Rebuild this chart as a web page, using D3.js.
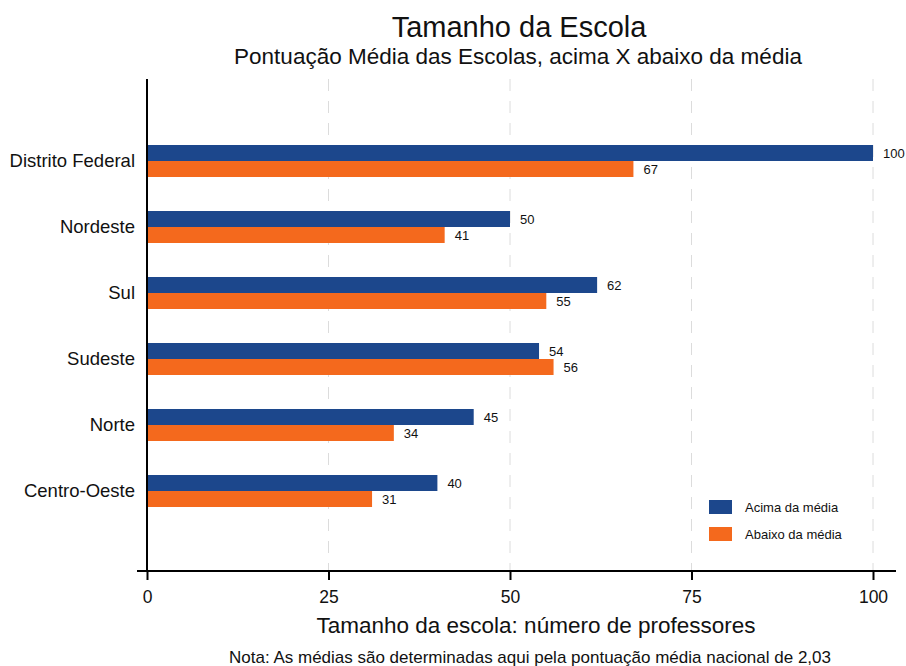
<!DOCTYPE html>
<html>
<head>
<meta charset="utf-8">
<script src="https://cdn.jsdelivr.net/npm/d3@7"></script>
<style>
  body { margin: 0; background: #fff; }
  svg { font-family: "Liberation Sans", Arial, sans-serif; display: block; }
</style>
</head>
<body>
<svg id="chart" width="906" height="666"></svg>
<script>
// dados
var regioes = ["Distrito Federal", "Nordeste", "Sul", "Sudeste", "Norte", "Centro-Oeste"];
var acimaMedia = [100, 50, 62, 54, 45, 40];
var abaixoMedia = [67, 41, 55, 56, 34, 31];
var xTicks = [0, 25, 50, 75, 100];
var series = [
  { nome: "Acima da média", valores: acimaMedia, cor: "#1c478c" },
  { nome: "Abaixo da média", valores: abaixoMedia, cor: "#f4691d" }
];

var svg = d3.select("#chart");
var x = d3.scaleLinear().domain([0, 100]).range([147, 873]);
var y = d3.scalePoint().domain(regioes).range([161, 491]);
var barH = 16;
var yTopo = 79, yBase = 571;

// linhas de grade
svg.append("g").selectAll("line")
  .data(xTicks.slice(1))
  .enter().append("line")
  .attr("x1", function(d) { return x(d); })
  .attr("x2", function(d) { return x(d); })
  .attr("y1", yTopo)
  .attr("y2", yBase)
  .attr("stroke", "#dcdcdc")
  .attr("stroke-width", 1)
  .attr("stroke-dasharray", "12,10");

// barras
series.forEach(function(s, si) {
  var g = svg.append("g");
  g.selectAll("rect")
    .data(regioes)
    .enter().append("rect")
    .attr("x", x(0))
    .attr("y", function(d) { return y(d) - barH + si * barH; })
    .attr("width", function(d, i) { return x(s.valores[i]) - x(0); })
    .attr("height", barH)
    .attr("fill", s.cor);
  g.selectAll("text")
    .data(regioes)
    .enter().append("text")
    .attr("x", function(d, i) { return x(s.valores[i]) + 10; })
    .attr("y", function(d) { return y(d) - barH / 2 + si * barH + 5; })
    .attr("font-size", 13)
    .attr("fill", "#111")
    .text(function(d, i) { return s.valores[i]; });
});

// eixo x
var xAxis = svg.append("g")
  .attr("transform", "translate(0," + yBase + ")")
  .call(d3.axisBottom(x).tickValues(xTicks).tickSize(9).tickPadding(11).tickSizeOuter(0));
xAxis.select(".domain").remove();
xAxis.selectAll(".tick line").attr("stroke", "#000").attr("stroke-width", 2);
xAxis.selectAll(".tick text").attr("font-size", 17.5).attr("fill", "#111")
  .attr("font-family", "Liberation Sans, Arial, sans-serif");
svg.append("line")
  .attr("x1", 137).attr("x2", 896)
  .attr("y1", yBase).attr("y2", yBase)
  .attr("stroke", "#000").attr("stroke-width", 2);

// eixo y
svg.append("line")
  .attr("x1", x(0)).attr("x2", x(0))
  .attr("y1", yTopo).attr("y2", yBase)
  .attr("stroke", "#000").attr("stroke-width", 2);
svg.append("g").selectAll("text")
  .data(regioes)
  .enter().append("text")
  .attr("x", 135)
  .attr("y", function(d) { return y(d) + 6; })
  .attr("text-anchor", "end")
  .attr("font-size", 18.5)
  .attr("fill", "#111")
  .text(function(d) { return d; });

// titulos
svg.append("text").attr("x", 519).attr("y", 37).attr("text-anchor", "middle")
  .attr("font-size", 29).attr("fill", "#111").text("Tamanho da Escola");
svg.append("text").attr("x", 518).attr("y", 64).attr("text-anchor", "middle")
  .attr("font-size", 22.5).attr("fill", "#111").text("Pontuação Média das Escolas, acima X abaixo da média");
svg.append("text").attr("x", 536).attr("y", 633).attr("text-anchor", "middle")
  .attr("font-size", 22.5).attr("fill", "#111").text("Tamanho da escola: número de professores");
svg.append("text").attr("x", 530).attr("y", 663).attr("text-anchor", "middle")
  .attr("font-size", 17).attr("fill", "#111").text("Nota: As médias são determinadas aqui pela pontuação média nacional de 2,03");

// legenda
var leg = svg.append("g").selectAll("g")
  .data(series)
  .enter().append("g")
  .attr("transform", function(d, i) { return "translate(709," + (500 + i * 27) + ")"; });
leg.append("rect").attr("width", 23).attr("height", 14).attr("fill", function(d) { return d.cor; });
leg.append("text").attr("x", 36).attr("y", 12).attr("font-size", 13).attr("fill", "#111")
  .text(function(d) { return d.nome; });
</script>
</body>
</html>
